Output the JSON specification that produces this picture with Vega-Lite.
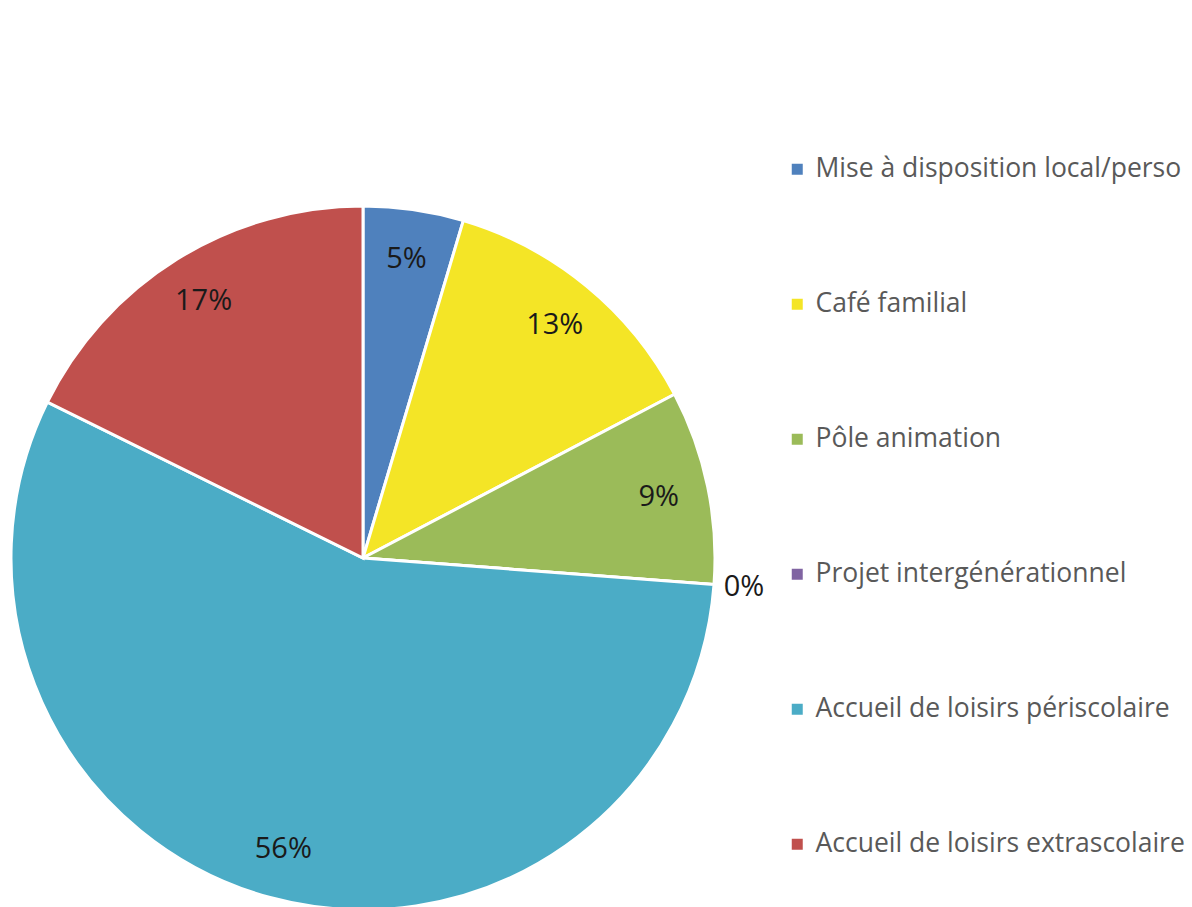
{
  "$schema": "https://vega.github.io/schema/vega-lite/v6.json",
  "width": 726,
  "height": 1116,
  "autosize": "none",
  "padding": {"left": 0, "top": 0, "right": 466, "bottom": 0},
  "background": "white",
  "config": {"view": {"stroke": null}},
  "data": {
    "values": [
      {"ord": 1, "cat": "Mise à disposition local/perso", "pct": 4.6, "label": "5%"},
      {"ord": 2, "cat": "Café familial", "pct": 12.7, "label": "13%"},
      {"ord": 3, "cat": "Pôle animation", "pct": 8.9, "label": "9%"},
      {"ord": 4, "cat": "Projet intergénérationnel", "pct": 0, "label": "0%"},
      {"ord": 5, "cat": "Accueil de loisirs périscolaire", "pct": 56.1, "label": "56%"},
      {"ord": 6, "cat": "Accueil de loisirs extrascolaire", "pct": 17.7, "label": "17%"}
    ]
  },
  "encoding": {
    "theta": {"field": "pct", "type": "quantitative", "stack": true},
    "order": {"field": "ord", "type": "quantitative"},
    "color": {
      "field": "cat",
      "type": "nominal",
      "scale": {
        "domain": ["Mise à disposition local/perso", "Café familial", "Pôle animation", "Projet intergénérationnel", "Accueil de loisirs périscolaire", "Accueil de loisirs extrascolaire"],
        "range": ["#4F81BD", "#F4E526", "#9BBB59", "#8064A2", "#4BACC6", "#C0504D"]
      },
      "legend": {
        "title": null,
        "orient": "none",
        "legendX": 784,
        "legendY": 156,
        "symbolType": "square",
        "symbolSize": 121,
        "symbolStrokeWidth": 0,
        "labelFontSize": 26.5,
        "labelFont": "Open Sans",
        "labelColor": "#595959",
        "labelLimit": 600,
        "labelOffset": 5,
        "rowPadding": 108
      }
    }
  },
  "layer": [
    {
      "mark": {"type": "arc", "outerRadius": 352, "stroke": "white", "strokeWidth": 3}
    },
    {
      "mark": {
        "type": "text",
        "radius": {"expr": "datum.pct < 1 ? 382 : 302"},
        "font": "Open Sans",
        "fontSize": 29,
        "fill": "#1a1a1a"
      },
      "encoding": {
        "text": {"field": "label"},
        "color": {"value": "#1a1a1a"}
      }
    }
  ]
}
